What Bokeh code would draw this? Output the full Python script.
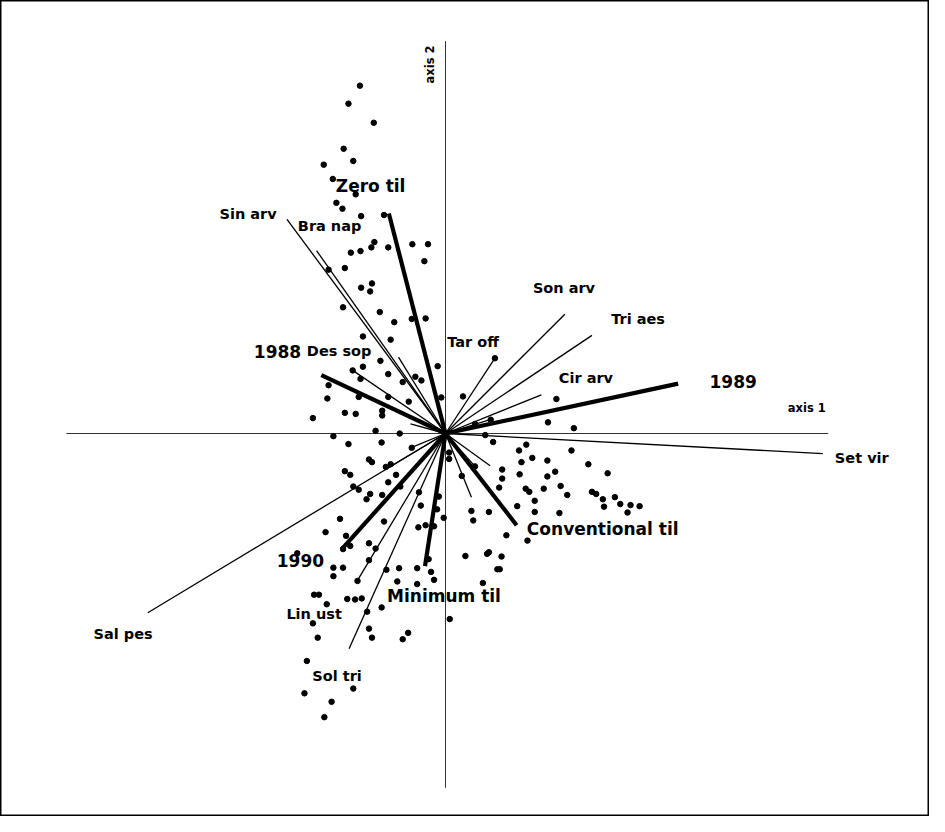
from bokeh.plotting import figure
from bokeh.models import Range1d
from bokeh.core.properties import value
from bokeh.embed import file_html
from bokeh.resources import INLINE

# ---- site scores (axis 1, axis 2) ----
site_x = [-1.42, -1.61, -1.19, -1.69, -1.53, -2.02, -1.87, -1.49, -1.81, -1.71,
          -1.40, -1.02, -1.18, -1.23, -0.95, -1.41, -1.57, -0.55, -0.29, -0.35,
          -1.67, -1.94, -1.22, -1.40, -1.25, -1.70, -1.09, -0.85, -0.56, -0.33,
          -1.37, -0.91, -1.08, -1.37, -1.54, -1.41, -0.95, -0.13, -0.71, -0.50,
          -0.40, -1.94, 0.82, -1.96, -1.44, -0.95, -0.61, -0.07, 0.29, -2.20,
          -1.67, -1.49, -1.05, -1.05, 1.84, 1.70, 0.49, 0.75, -1.86, -1.16,
          -0.76, -1.06, -1.61, -0.56, 0.66, 0.79, 2.13,
          1.34, 1.22, 2.09, 1.44, 1.26, 1.69, 2.37, 0.94, 1.82, 1.23,
          1.69, 2.69, 0.94, 0.49, 0.27, 0.06, 0.06, 0.89, 1.33, 1.39,
          1.63, 1.91, 1.48, 2.02, 2.43, 2.50, 2.61, 2.81, 2.90, 3.07,
          3.22, 2.63, 3.02, 1.19, 1.48, 1.89, 0.43, 0.72, 0.46, 1.01,
          1.36, 0.33, 0.69, 0.72, 0.93, 0.86, 0.90, 0.62, 0.07,
          -0.11, -0.14, -0.03, -0.19, -0.44, -0.41, -0.45, -0.33, -0.28, -0.47,
          -0.24, -0.19, -0.47,
          -1.27, -1.22, -0.99, -0.91, -1.67, -1.58, -0.82, -0.95, -0.75, -1.53,
          -1.44, -1.25, -1.31, -1.05, -1.75, -1.99, -1.65, -1.02, -1.27, -1.16,
          -1.70, -1.58, -1.27, -1.86, -1.70, -1.86, -1.46, -0.98, -0.77, -0.80,
          -2.18, -2.10, -1.97, -1.63, -1.50, -1.39, -1.06, -2.20, -1.30, -1.27,
          -1.22, -0.62, -0.71, -2.12, -2.30, -1.53, -2.34, -1.89, -2.01, -2.46]
site_y = [6.56, 6.22, 5.86, 5.37, 5.14, 5.07, 4.80, 4.51, 4.35, 4.24,
          4.10, 4.12, 3.61, 3.51, 3.51, 3.44, 3.41, 3.57, 3.57, 3.25,
          3.12, 3.09, 2.83, 2.75, 2.68, 2.38, 2.29, 2.10, 2.16, 2.17,
          1.83, 1.77, 1.37, 1.26, 1.19, 1.03, 1.12, 1.27, 0.97, 1.07,
          1.00, 0.91, 1.42, 0.66, 0.69, 0.69, 0.60, 0.68, 0.70, 0.29,
          0.39, 0.37, 0.43, 0.34, 0.65, 0.21, 0.18, 0.26, -0.05, 0.05,
          0.00, -0.17, -0.20, -0.27, -0.03, -0.16, 0.10,
          -0.21, -0.32, -0.32, -0.46, -0.54, -0.51, -0.58, -0.68, -0.72, -0.77,
          -0.81, -0.75, -0.85, -0.62, -0.80, -0.36, -0.48, -1.02, -1.04, -1.10,
          -1.04, -0.99, -1.27, -1.16, -1.10, -1.14, -1.24, -1.20, -1.33, -1.35,
          -1.37, -1.38, -1.49, -1.37, -1.48, -1.50, -1.46, -1.48, -1.64, -1.92,
          -2.02, -2.31, -2.27, -2.24, -2.32, -2.56, -2.56, -2.82, -3.50,
          -1.19, -1.43, -1.59, -1.75, -1.11, -1.36, -1.77, -1.73, -2.37, -2.54,
          -2.61, -2.76, -2.84,
          -0.49, -0.54, -0.63, -0.58, -0.71, -0.78, -0.78, -0.92, -1.00, -1.00,
          -1.06, -1.14, -1.24, -1.16, -1.61, -1.86, -1.93, -1.66, -2.07, -2.17,
          -2.18, -2.12, -2.39, -2.53, -2.53, -2.69, -2.78, -2.57, -2.54, -2.79,
          -3.04, -3.04, -3.22, -3.12, -3.13, -3.11, -3.28, -3.58, -3.36, -3.68,
          -3.85, -3.76, -3.88, -3.85, -4.29, -4.81, -4.90, -5.06, -5.35, -2.26]

# ---- treatment vectors ----
treat_names = ["Zero til", "1988", "1989", "Conventional til", "Minimum til", "1990"]
treat_x = [-0.94, -2.06, 3.86, 1.18, -0.34, -1.72]
treat_y = [4.15, 1.10, 0.94, -1.73, -2.50, -2.18]
treat_label_x = [-1.82, -3.18, 4.38, 1.35, -0.97, -2.80]
treat_label_y = [4.67, 1.55, 0.99, -1.80, -3.07, -2.40]

# ---- species vectors ----
species_names = ["Sin arv", "Bra nap", "Des sop", "Tar off", "Son arv", "Tri aes",
                 "Cir arv", "Set vir", "Sal pes", "Lin ust", "Sol tri"]
species_x = [-2.63, -2.14, -1.54, 0.82, 1.98, 2.43, 1.59, 6.26, -4.94, -1.46, -1.60]
species_y = [4.04, 3.45, 1.19, 1.42, 2.25, 1.85, 0.73, -0.38, -3.38, -2.77, -4.06]
species_label_x = [-3.75, -2.45, -2.30, 0.03, 1.45, 2.75, 1.88, 6.46, -5.84, -2.64, -2.21]
species_label_y = [4.14, 3.91, 1.55, 1.72, 2.74, 2.15, 1.04, -0.47, -3.78, -3.40, -4.58]

# ---- unlabelled species vectors ----
minor_x = [-0.78, 0.74, 0.74, 0.49, 0.43, -0.56, -1.00, -0.58]
minor_y = [1.44, 0.26, -0.61, -0.62, -1.20, -0.26, -0.68, 0.18]

# ---- axis extents ----
axis1_extent = [-6.29, 6.35]
axis2_extent = [-6.68, 7.40]

FONT = value("DejaVu Sans")

p = figure(width=929, height=816, output_backend="svg", toolbar_location=None,
           x_range=Range1d(-7.383, 8.030), y_range=Range1d(-7.223, 8.166),
           min_border=0, x_axis_type=None, y_axis_type=None)
p.grid.visible = False
p.outline_line_color = "black"
p.outline_line_width = 2
p.background_fill_color = "white"

# axes
p.segment(x0=[axis1_extent[0]], y0=[0], x1=[axis1_extent[1]], y1=[0],
          line_color="#333333", line_width=1)
p.segment(x0=[0], y0=[axis2_extent[0]], x1=[0], y1=[axis2_extent[1]],
          line_color="#333333", line_width=1)

# vectors
p.segment(x0=[0] * len(minor_x), y0=[0] * len(minor_x), x1=minor_x, y1=minor_y,
          line_color="black", line_width=1.3)
p.segment(x0=[0] * len(species_x), y0=[0] * len(species_x), x1=species_x, y1=species_y,
          line_color="black", line_width=1.3)
p.segment(x0=[0] * len(treat_x), y0=[0] * len(treat_x), x1=treat_x, y1=treat_y,
          line_color="black", line_width=4.2)

# sites
p.scatter(site_x, site_y, size=5.5, marker="circle", fill_color="black", line_color="black")

# labels
p.text(treat_label_x, treat_label_y, text=treat_names, text_font=FONT,
       text_font_style="bold", text_font_size="17px", text_baseline="middle",
       text_align="left", text_color="black")
p.text(species_label_x, species_label_y, text=species_names, text_font=FONT,
       text_font_style="bold", text_font_size="14.5px", text_baseline="middle",
       text_align="left", text_color="black")
p.text([5.68], [0.48], text=["axis 1"], text_font=FONT, text_font_style="bold",
       text_font_size="11.5px", text_baseline="middle", text_align="left")
p.text([-0.265], [6.96], text=["axis 2"], text_font=FONT, text_font_style="bold",
       text_font_size="11.5px", text_baseline="middle", text_align="center",
       angle=1.5708)

open("out.html", "w").write(file_html(p, INLINE))
